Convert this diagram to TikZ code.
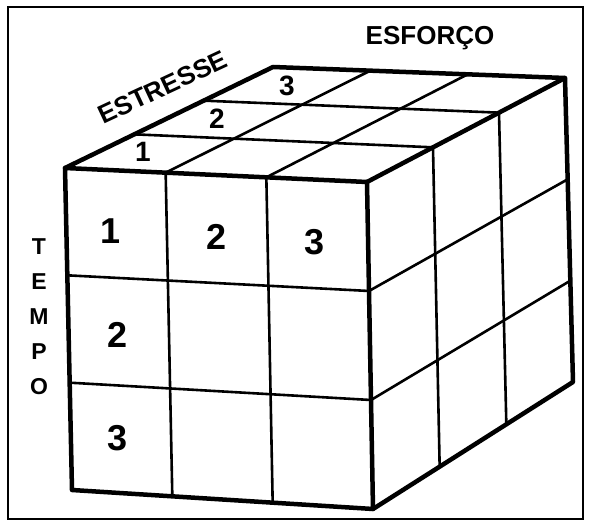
\documentclass[tikz,border=0pt]{standalone}
\usepackage{fontspec}
\setmainfont{Liberation Sans}
\usetikzlibrary{calc}
\tikzset{
  edge/.style={line width=4.5pt, line join=round, line cap=round},
  gridline/.style={line width=2.6pt},
  axislabel/.style={font=\bfseries\fontsize{26}{26}\selectfont},
  cellnum/.style={font=\bfseries\fontsize{36}{36}\selectfont},
  topnum/.style={font=\bfseries\fontsize{28}{28}\selectfont},
}
\begin{document}
\begin{tikzpicture}[x=1pt,y=-1pt]
\useasboundingbox (0,0) rectangle (590,526);
\draw[line width=1.3pt] (8,7) rectangle (583,519);
% corners of the cube
\coordinate (ftl) at (65,168);
\coordinate (ftr) at (367,182);
\coordinate (fbl) at (72,490);
\coordinate (fbr) at (373,509);
\coordinate (btl) at (273,67);
\coordinate (btr) at (565,78);
\coordinate (bbr) at (573,382);
% grid lines of the three faces
\foreach \t in {0.3333,0.6667} {
  \draw[gridline] ($(ftl)!\t!(ftr)$) -- ($(fbl)!\t!(fbr)$);
  \draw[gridline] ($(ftl)!\t!(fbl)$) -- ($(ftr)!\t!(fbr)$);
  \draw[gridline] ($(ftl)!\t!(btl)$) -- ($(ftr)!\t!(btr)$);
  \draw[gridline] ($(ftl)!\t!(ftr)$) -- ($(btl)!\t!(btr)$);
  \draw[gridline] ($(ftr)!\t!(btr)$) -- ($(fbr)!\t!(bbr)$);
  \draw[gridline] ($(ftr)!\t!(fbr)$) -- ($(btr)!\t!(bbr)$);
}
% outline
\draw[edge] (ftl) -- (ftr) -- (fbr) -- (fbl) -- cycle;
\draw[edge] (ftl) -- (btl) -- (btr) -- (ftr);
\draw[edge] (btr) -- (bbr) -- (fbr);
% axis labels
\node[axislabel] (esforco) at (430,38) {ESFORÇO};
\node[axislabel, rotate=25] (estresse) at (163,87) {ESTRESSE};
\node[axislabel, font=\bfseries\fontsize{23}{35}\selectfont, align=center] (tempo) at (39,317) {T\\E\\M\\P\\O};
% numbers
\node[cellnum] (f1) at (111,231) {1};
\node[cellnum] (f2) at (217,237) {2};
\node[cellnum] (f3) at (315,242) {3};
\node[cellnum] (r2) at (118,335) {2};
\node[cellnum] (r3) at (118,438) {3};
\node[topnum] (t1) at (143,152) {1};
\node[topnum] (t2) at (217,119) {2};
\node[topnum] (t3) at (287,86) {3};
\end{tikzpicture}
\end{document}
